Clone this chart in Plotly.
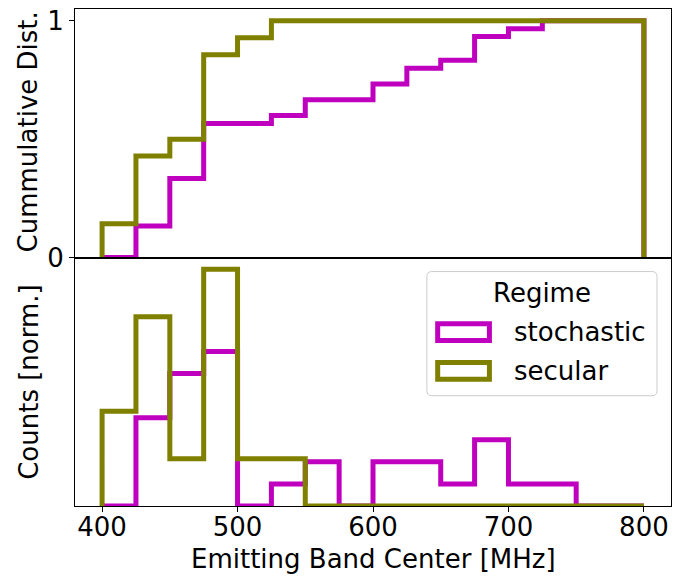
import numpy as np
import plotly.graph_objects as go
from plotly.subplots import make_subplots

# ---- data ----
bin_edges = [400, 425, 450, 475, 500, 525, 550, 575, 600, 625, 650, 675, 700, 725, 750, 775, 800]
stochastic_counts = [0, 4, 6, 7, 0, 1, 2, 0, 2, 2, 1, 3, 1, 1, 0, 0]
secular_counts = [2, 4, 1, 5, 1, 1, 0, 0, 0, 0, 0, 0, 0, 0, 0, 0]
x_ticks = [400, 500, 600, 700, 800]
series_names = ["stochastic", "secular"]
series_colors = ["#BF00BF", "#808000"]

edges = np.array(bin_edges, dtype=float)
widths = np.diff(edges)

def step_xy(vals):
    vals = np.asarray(vals, dtype=float)
    x = np.repeat(edges, 2)
    y = np.concatenate([[0.0], np.repeat(vals, 2), [0.0]])
    return x, y

W, H = 699, 576
L, R, T, B = 75, 670.7, 5.7, 506

def px(xp):
    return (xp - L) / (R - L)

def py(yp):
    return (B - yp) / (B - T)

FONT = "DejaVu Sans"
FS = 26

fig = make_subplots(rows=2, cols=1, shared_xaxes=True, vertical_spacing=0)

max_density = 0
for name, counts, color in zip(series_names, [stochastic_counts, secular_counts], series_colors):
    c = np.asarray(counts, dtype=float)
    density = c / (c.sum() * widths)
    cumulative = np.cumsum(c) / c.sum()
    max_density = max(max_density, density.max())
    xc, yc = step_xy(cumulative)
    fig.add_trace(go.Scatter(x=xc, y=yc, mode="lines", name=name,
                             line=dict(color=color, width=5), showlegend=False,
                             hoverinfo="skip"), row=1, col=1)
    xd, yd = step_xy(density)
    fig.add_trace(go.Scatter(x=xd, y=yd, mode="lines", name=name,
                             line=dict(color=color, width=5), showlegend=False,
                             hoverinfo="skip"), row=2, col=1)

axis_common = dict(showgrid=False, zeroline=False, showline=True, mirror=True,
                   linecolor="black", linewidth=1.1)

fig.update_xaxes(range=[380, 820], **axis_common)
fig.update_xaxes(ticks="", showticklabels=False, row=1, col=1)
fig.update_xaxes(ticks="outside", ticklen=5, tickwidth=1.1, tickcolor="black",
                 tickvals=x_ticks, ticktext=[str(v) for v in x_ticks],
                 ticklabelstandoff=-7,
                 tickfont=dict(family=FONT, size=FS, color="black"), row=2, col=1)

fig.update_yaxes(range=[0, 1.05], tickvals=[0, 1], ticktext=["0", "1"],
                 ticks="outside", ticklen=5, tickwidth=1.1, tickcolor="black",
                 tickfont=dict(family=FONT, size=FS, color="black"),
                 row=1, col=1, **axis_common)
fig.update_yaxes(range=[0, max_density * 1.05], showticklabels=False, ticks="",
                 row=2, col=1, **axis_common)

annotations = [
    dict(text="Cummulative Dist.", x=px(29), y=py(129), xref="paper", yref="paper",
         textangle=-90, showarrow=False, xanchor="center", yanchor="middle",
         font=dict(family=FONT, size=FS, color="black")),
    dict(text="Counts [norm.]", x=px(29), y=py(381), xref="paper", yref="paper",
         textangle=-90, showarrow=False, xanchor="center", yanchor="middle",
         font=dict(family=FONT, size=FS, color="black")),
    dict(text="Emitting Band Center [MHz]", x=px(373), y=py(559), xref="paper", yref="paper",
         showarrow=False, xanchor="center", yanchor="middle",
         font=dict(family=FONT, size=FS, color="black")),
    dict(text="Regime", x=px(541.7), y=py(292), xref="paper", yref="paper",
         showarrow=False, xanchor="center", yanchor="middle",
         font=dict(family=FONT, size=FS, color="black")),
]

# legend (drawn manually)
lx0, lx1, ly0, ly1, r = 426.7, 656.7, 270, 395, 5
def rounded_path(x0, x1, y0, y1, rr):
    pts = [
        f"M {px(x0 + rr)},{py(y0)}", f"L {px(x1 - rr)},{py(y0)}",
        f"Q {px(x1)},{py(y0)} {px(x1)},{py(y0 + rr)}", f"L {px(x1)},{py(y1 - rr)}",
        f"Q {px(x1)},{py(y1)} {px(x1 - rr)},{py(y1)}", f"L {px(x0 + rr)},{py(y1)}",
        f"Q {px(x0)},{py(y1)} {px(x0)},{py(y1 - rr)}", f"L {px(x0)},{py(y0 + rr)}",
        f"Q {px(x0)},{py(y0)} {px(x0 + rr)},{py(y0)}", "Z"]
    return " ".join(pts)

shapes = [dict(type="path", path=rounded_path(lx0, lx1, ly0, ly1, r), xref="paper", yref="paper",
               line=dict(color="#cccccc", width=1), fillcolor="rgba(255,255,255,0.8)")]
rows_y = [331, 370]
for name, color, yc in zip(series_names, series_colors, rows_y):
    shapes.append(dict(type="rect", xref="paper", yref="paper",
                       x0=px(437.5), x1=px(489.2), y0=py(yc - 8.5), y1=py(yc + 8.5),
                       line=dict(color=color, width=5), fillcolor="rgba(0,0,0,0)"))
    annotations.append(dict(text=name, x=px(512), y=py(yc), xref="paper", yref="paper",
                            showarrow=False, xanchor="left", yanchor="middle",
                            font=dict(family=FONT, size=FS, color="black")))

fig.update_layout(width=W, height=H, margin=dict(l=L, r=W - R, t=T, b=H - B),
                  plot_bgcolor="white", paper_bgcolor="white",
                  annotations=annotations, shapes=shapes, showlegend=False)

fig.write_html("out.html")
